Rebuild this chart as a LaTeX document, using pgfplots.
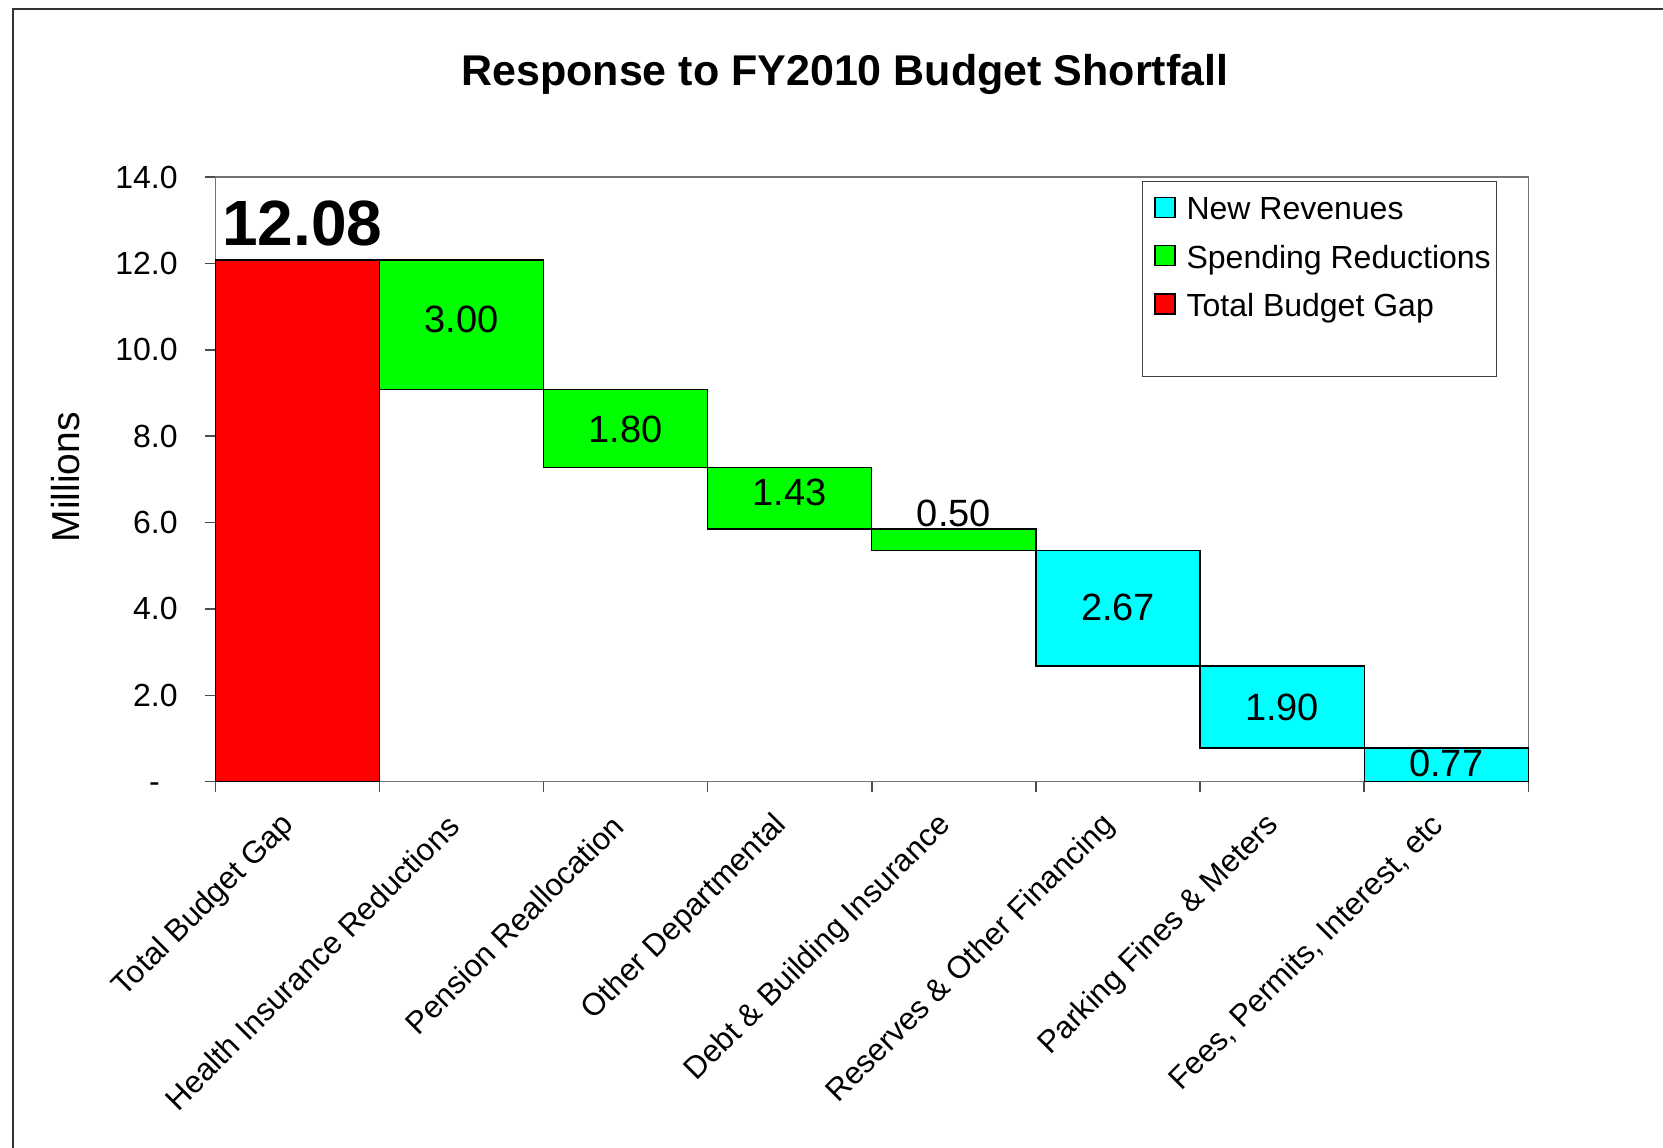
\documentclass[border=0pt]{standalone}
\usepackage{pgfplots}
\pgfplotsset{compat=1.18}
\usepackage{fontspec}
\setmainfont{Liberation Sans}
\definecolor{cyanbar}{RGB}{0,255,255}
\definecolor{greenbar}{RGB}{0,255,0}
\definecolor{redbar}{RGB}{255,0,0}

\begin{document}
\begin{tikzpicture}
\useasboundingbox (0,0) rectangle (831.5pt,-573.5pt);
\draw[black!80, line width=0.8pt] (6.5pt,-580pt) -- (6.5pt,-4.5pt) -- (840pt,-4.5pt);
\node[anchor=base, font=\fontsize{21.5}{26}\selectfont\bfseries] at (422.4pt,-42.5pt) {Response to FY2010 Budget Shortfall};
\node[rotate=90, font=\fontsize{19.5}{23}\selectfont] at (32.7pt,-238.7pt) {Millions};
\begin{axis}[
  at={(107.65pt,-390.85pt)}, anchor=south west,
  scale only axis, width=656.5pt, height=302.3pt,
  xmin=0, xmax=8, ymin=0, ymax=14,
  ybar stacked, bar width=1,
  clip=false,
  axis line style={black!55, line width=0.75pt},
  tick align=outside, major tick length=5pt,
  tick style={black!70, line width=0.75pt},
  xtick={0,1,...,8}, xticklabels={},
  extra x ticks={0.5,1.5,...,7.5},
  extra x tick labels={Total Budget Gap, Health Insurance Reductions, Pension Reallocation, Other Departmental, Debt \& Building Insurance, Reserves \& Other Financing, Parking Fines \& Meters, {Fees, Permits, Interest, etc}},
  extra x tick style={major tick length=0pt, tick style={draw=none},
     xticklabel style={xshift=-3.8pt, yshift=-19.45pt, rotate=45, anchor=east, inner sep=0pt, font=\fontsize{15.6}{19}\selectfont}},
  ytick={0,2,...,14},
  yticklabels={-\phantom{0}, 2.0, 4.0, 6.0, 8.0, 10.0, 12.0, 14.0},
  xtick pos=lower, ytick pos=left,
  tick label style={font=\fontsize{16}{19}\selectfont},
  yticklabel style={anchor=east, inner sep=0pt, xshift=-13.65pt},
  legend style={at={(0.7149,0.9701)}, anchor=north west, draw=none, fill=none,
     inner sep=0pt, row sep=8.2pt, column sep=5.5pt,
     font=\fontsize{16}{19}\selectfont,
     nodes={inner sep=0pt, text height=12pt, text depth=4pt}},
  legend cell align=left,
  legend image code/.code={\draw[#1, draw=black, line width=0.6pt] (0pt,-2.8pt) rectangle (10pt,7.2pt);},
]
\addplot[draw=none, fill=none, forget plot] coordinates {(0.5,0) (1.5,9.08) (2.5,7.28) (3.5,5.85) (4.5,5.35) (5.5,2.68) (6.5,0.78) (7.5,0.01)};
\addplot[fill=cyanbar, draw=black, line width=0.6pt] coordinates {(0.5,0) (1.5,0) (2.5,0) (3.5,0) (4.5,0) (5.5,2.67) (6.5,1.90) (7.5,0.77)};
\addlegendentry{New Revenues}
\addplot[fill=greenbar, draw=black, line width=0.6pt] coordinates {(0.5,0) (1.5,3.00) (2.5,1.80) (3.5,1.43) (4.5,0.50) (5.5,0) (6.5,0) (7.5,0)};
\addlegendentry{Spending Reductions}
\addplot[fill=redbar, draw=black, line width=0.6pt] coordinates {(0.5,12.08) (1.5,0) (2.5,0) (3.5,0) (4.5,0) (5.5,0) (6.5,0) (7.5,0)};
\addlegendentry{Total Budget Gap}
\draw[black!75, line width=0.6pt] (axis description cs:0.7063,0.9926) rectangle (axis description cs:0.9759,0.670);
\coordinate (v1) at (axis cs:1.5,10.7);
\coordinate (v2) at (axis cs:2.5,8.15);
\coordinate (v3) at (axis cs:3.5,6.7);
\coordinate (v4) at (axis cs:4.5,6.21);
\coordinate (v5) at (axis cs:5.5,4.03);
\coordinate (v6) at (axis cs:6.5,1.72);
\coordinate (v7) at (axis cs:7.5,0.42);
\coordinate (v0) at (axis cs:0.53,12.92);
\end{axis}
\node[font=\fontsize{19}{23}\selectfont] at (v1) {3.00};
\node[font=\fontsize{19}{23}\selectfont] at (v2) {1.80};
\node[font=\fontsize{19}{23}\selectfont] at (v3) {1.43};
\node[font=\fontsize{19}{23}\selectfont] at (v4) {0.50};
\node[font=\fontsize{19}{23}\selectfont] at (v5) {2.67};
\node[font=\fontsize{19}{23}\selectfont] at (v6) {1.90};
\node[font=\fontsize{19}{23}\selectfont] at (v7) {0.77};
\node[font=\fontsize{32}{38}\selectfont\bfseries] at (v0) {12.08};
\end{tikzpicture}
\end{document}
